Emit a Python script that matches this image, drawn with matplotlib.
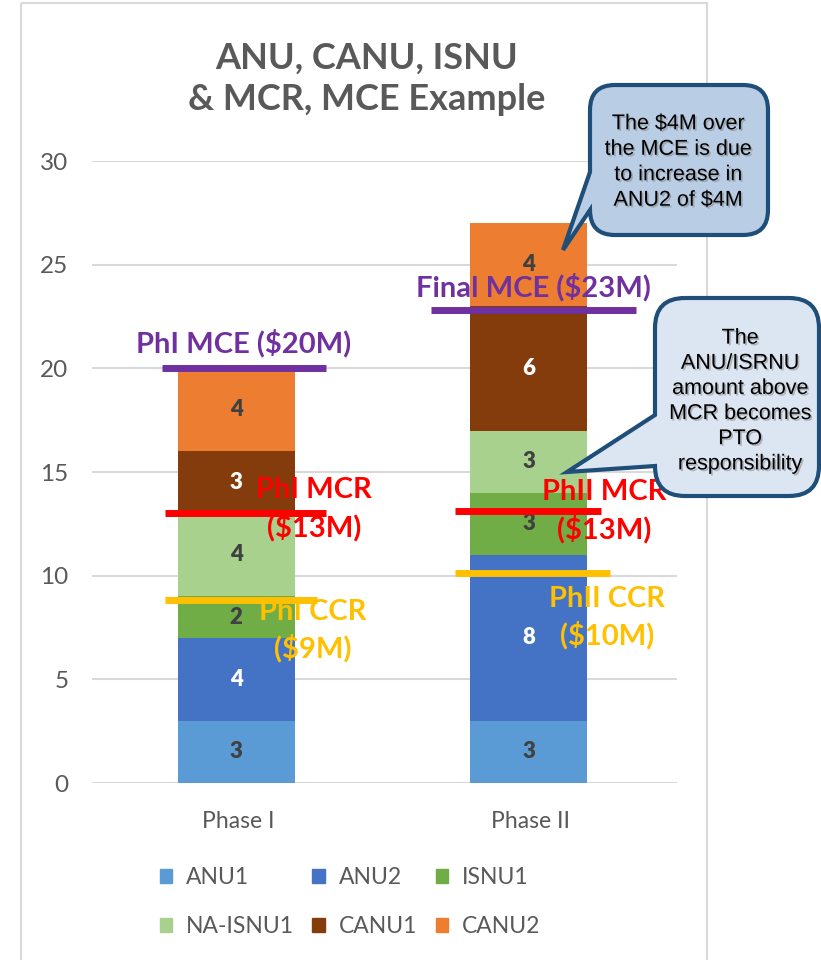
import numpy as np
import matplotlib.pyplot as plt
from matplotlib.path import Path
from matplotlib.patches import PathPatch, Rectangle, Patch
import matplotlib.patheffects as pe

plt.rcParams['font.family'] = ['Lato', 'DejaVu Sans']

# data
phases = ["Phase I", "Phase II"]
series = ["ANU1", "ANU2", "ISNU1", "NA-ISNU1", "CANU1", "CANU2"]
anu1 = [3, 3]
anu2 = [4, 8]
isnu1 = [2, 3]
na_isnu1 = [4, 3]
canu1 = [3, 6]
canu2 = [4, 4]
values = [anu1, anu2, isnu1, na_isnu1, canu1, canu2]
colors = ["#5B9BD5", "#4472C4", "#70AD47", "#A9D18E", "#843C0C", "#ED7D31"]
label_colors = ["#404040", "white", "#404040", "#404040", "white", "#404040"]

# reference levels (per phase)
mce = [20, 22.8]
mcr = [13, 13.1]
ccr = [8.85, 10.13]
mce_text = ["PhI MCE ($20M)", "Final MCE ($23M)"]
mcr_text = ["PhI MCR\n($13M)", "PhII MCR\n($13M)"]
ccr_text = ["PhI CCR\n($9M)", "PhII CCR\n($10M)"]

W, H = 821, 960
fig = plt.figure(figsize=(W / 100, H / 100), dpi=100)
ax = fig.add_axes([92 / W, 1 - 783 / H, 585 / W, 622 / H])

x = np.arange(len(phases))
bottom = np.zeros(len(phases))
for name, vals, c, lc in zip(series, values, colors, label_colors):
    bars = ax.bar(x - 0.007, vals, 0.4, bottom=bottom, color=c, label=name, zorder=2)
    ax.bar_label(bars, label_type="center", color=lc, fontsize=16, fontweight="heavy")
    bottom += np.array(vals)

ax.set_xlim(-0.5, 1.5)
ax.set_ylim(0, 30)
ax.set_yticks(range(0, 31, 5))
ax.set_xticks(x)
ax.set_xticklabels(phases)
ax.yaxis.grid(True, color="#D9D9D9", lw=1.5)
ax.set_axisbelow(True)
for s in ax.spines.values():
    s.set_visible(False)
ax.tick_params(axis="y", length=0, pad=17, labelsize=17.5, labelcolor="#595959")
ax.tick_params(axis="x", length=0, pad=20, labelsize=16.5, labelcolor="#595959")

# reference lines and their labels
line_span = {
    "mce": [(-0.26, 0.30), (-0.34, 0.36)],
    "mcr": [(-0.25, 0.30), (-0.26, 0.24)],
    "ccr": [(-0.25, 0.27), (-0.26, 0.27)],
}
for i in range(2):
    for key, lev, col in (("mce", mce, "#7030A0"), ("mcr", mcr, "#FF0000"), ("ccr", ccr, "#FFC000")):
        a, b = line_span[key][i]
        ax.plot([x[i] + a, x[i] + b], [lev[i], lev[i]], color=col, lw=5, zorder=4,
                solid_capstyle="butt")

text_kw = dict(ha="center", va="center", fontsize=21, fontweight="bold", zorder=5, linespacing=1.4)
ax.text(x[0] + 0.02, mce[0] + 1.2, mce_text[0], color="#7030A0", **text_kw)
ax.text(x[1] + 0.01, mce[1] + 1.1, mce_text[1], color="#7030A0", **text_kw)
ax.text(x[0] + 0.26, mcr[0] + 0.2, mcr_text[0], color="#FF0000", **text_kw)
ax.text(x[1] + 0.25, mcr[1] + 0.0, mcr_text[1], color="#FF0000", **text_kw)
ax.text(x[0] + 0.255, ccr[0] - 1.5, ccr_text[0], color="#FFC000", **text_kw)
ax.text(x[1] + 0.26, ccr[1] - 2.15, ccr_text[1], color="#FFC000", **text_kw)

# legend, row-major order like the original
order = [0, 3, 1, 4, 2, 5]
handles = [Patch(color=colors[k], label=series[k]) for k in order]
fig.legend(handles=handles, ncol=3, loc="center", bbox_to_anchor=(350 / W, 1 - 902 / H),
           frameon=False, fontsize=16.5, labelcolor="#595959", handlelength=0.55,
           handleheight=0.55, handletextpad=0.6, columnspacing=0.8, labelspacing=1.2)

fig.text(367 / W, 1 - 79 / H, "ANU, CANU, ISNU\n& MCR, MCE Example", ha="center", va="center",
         fontsize=26, fontweight="bold", color="#595959", linespacing=1.3)

# overlay in pixel coordinates for border and callouts
ov = fig.add_axes([0, 0, 1, 1], zorder=10)
ov.set_xlim(0, W)
ov.set_ylim(H, 0)
ov.axis("off")
ov.patch.set_alpha(0)
ov.add_patch(Rectangle((21, 3), 686, 980, fill=False, edgecolor="#D9D9D9", lw=1.5, zorder=1))


def callout(L, R, T, B, r, tail_top, tip):
    verts = [(L + r, T), (R - r, T), (R, T), (R, T + r), (R, B - r), (R, B), (R - r, B),
             (L + r, B), (L, B), (L, B - r), tip, (L, tail_top), (L, T + r), (L, T), (L + r, T)]
    codes = [Path.MOVETO, Path.LINETO, Path.CURVE3, Path.CURVE3, Path.LINETO, Path.CURVE3,
             Path.CURVE3, Path.LINETO, Path.CURVE3, Path.CURVE3, Path.LINETO, Path.LINETO,
             Path.LINETO, Path.CURVE3, Path.CURVE3]
    return Path(verts, codes)


ov.add_patch(PathPatch(callout(590, 768, 85, 235, 25, 172, (563, 250)),
                       facecolor="#B9CDE5", edgecolor="#1F4E79", lw=3, zorder=5))
ov.add_patch(PathPatch(callout(655, 819, 298, 496, 30, 415, (567, 472)),
                       facecolor="#DCE6F2", edgecolor="#1F4E79", lw=3, zorder=5))

shadow = [pe.withSimplePatchShadow(offset=(1.2, -1.2), shadow_rgbFace="#7F7F7F", alpha=0.5)]
ov.text(678, 162, "The $4M over\nthe MCE is due\nto increase in\nANU2 of $4M", ha="center",
        va="center", fontsize=15.5, family="Liberation Sans", linespacing=1.28, zorder=6,
        path_effects=shadow)
ov.text(740, 401, "The\nANU/ISRNU\namount above\nMCR becomes\nPTO\nresponsibility",
        ha="center", va="center", fontsize=15.5, family="Liberation Sans", linespacing=1.26,
        zorder=6, path_effects=shadow)

fig.savefig("out.png", dpi=100)
